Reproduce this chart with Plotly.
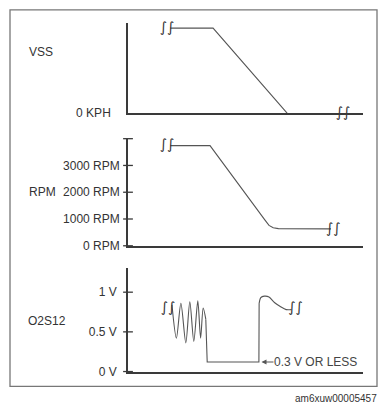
import plotly.graph_objects as go

PAGE_W, PAGE_H = 387, 417
OFF = 8  # default page margin around the plot div
W, H = PAGE_W - 2 * OFF, PAGE_H - 2 * OFF

# ---------------- data ----------------
# common time axis (arbitrary units 0..100)
vss_t = [18.0, 36.2, 67.7]
vss_v = [94, 94, 0]
vss_breaks_t = [16.6, 91.5]
vss_breaks_v = [94, 0]
vss_ticks = [0]
vss_ticktext = ["0 KPH"]

rpm_t = [18.0, 34.9, 58.3, 60.0, 61.8, 64.0, 86.4]
rpm_v = [3740, 3740, 960, 760, 670, 640, 630]
rpm_breaks_t = [16.6, 87.4]
rpm_breaks_v = [3740, 620]
rpm_ticks = [0, 1000, 2000, 3000]
rpm_ticktext = ["0 RPM", "1000 RPM", "2000 RPM", "3000 RPM"]
rpm_marks = [0, 1000, 2000, 3000, 4000]

o2_osc_t = [18.7, 20.6, 22.5, 24.6, 26.3, 28.0, 29.7, 30.9, 32.0, 33.1]
o2_osc_v = [0.84, 0.42, 0.86, 0.36, 0.88, 0.38, 0.89, 0.42, 0.80, 0.66]
o2_low_t = [33.1, 33.7, 55.7, 55.8]
o2_low_v = [0.66, 0.12, 0.12, 0.86]
o2_rec_t = [55.8, 56.5, 58.0, 60.0, 62.3, 64.8, 67.3, 69.6]
o2_rec_v = [0.86, 0.93, 0.95, 0.94, 0.87, 0.82, 0.78, 0.78]
o2_breaks_t = [17.0, 71.3]
o2_breaks_v = [0.80, 0.80]
o2_ticks = [0, 0.5, 1]
o2_ticktext = ["0 V", "0.5 V", "1 V"]
o2_arrow_t = 56.8
o2_arrow_v = 0.12
o2_note = "0.3 V OR LESS"

row_labels = ["VSS", "RPM", "O2S12"]
footer = "am6xuw00005457"

# ---------------- layout helpers (page pixel -> paper) ----------------
def px_x(p):
    return (p - OFF) / W

def px_y(p):
    return 1 - (p - OFF) / H

XDOM = [px_x(128), px_x(363)]
LINE = "#555555"
AXC = "#3a3a3a"
TXT = "#333333"
FONT = "Liberation Sans, Arial, sans-serif"

fig = go.Figure()

def add_line(t, v, ax, shape="linear"):
    fig.add_trace(go.Scatter(x=t, y=v, mode="lines", xaxis=ax[0], yaxis=ax[1],
                             line=dict(color=LINE, width=1.1, shape=shape, smoothing=0.8),
                             hoverinfo="skip", showlegend=False, cliponaxis=False))

def add_breaks(t, v, ax):
    fig.add_trace(go.Scatter(x=t, y=v, mode="text", text=["∫∫"] * len(t),
                             xaxis=ax[0], yaxis=ax[1],
                             textfont=dict(family="DejaVu Sans", size=14, color="#333"),
                             textposition="middle center",
                             hoverinfo="skip", showlegend=False, cliponaxis=False))

def add_marks(v, ax):
    fig.add_trace(go.Scatter(x=[0] * len(v), y=v, mode="markers", xaxis=ax[0], yaxis=ax[1],
                             marker=dict(symbol="line-ew", size=7,
                                         line=dict(color=AXC, width=1.3)),
                             hoverinfo="skip", showlegend=False, cliponaxis=False))

# VSS
add_line(vss_t, vss_v, ("x", "y"))
add_breaks(vss_breaks_t, vss_breaks_v, ("x", "y"))
# RPM
add_line(rpm_t, rpm_v, ("x2", "y2"))
add_breaks(rpm_breaks_t, rpm_breaks_v, ("x2", "y2"))
add_marks(rpm_marks, ("x2", "y2"))
# O2S12
add_line(o2_osc_t, o2_osc_v, ("x3", "y3"), shape="spline")
add_line(o2_low_t, o2_low_v, ("x3", "y3"))
add_line(o2_rec_t, o2_rec_v, ("x3", "y3"), shape="spline")
add_breaks(o2_breaks_t, o2_breaks_v, ("x3", "y3"))
add_marks(o2_ticks, ("x3", "y3"))

def xax(anchor):
    return dict(domain=XDOM, range=[0, 100], anchor=anchor, showline=True,
                linecolor=AXC, linewidth=1.6, showgrid=False, zeroline=False,
                showticklabels=False, ticks="", fixedrange=True)

def yax(anchor, dom, rng, tv, tt, tl):
    return dict(domain=dom, range=rng, anchor=anchor, showline=True,
                linecolor=AXC, linewidth=1.6, showgrid=False, zeroline=False,
                tickvals=tv, ticktext=tt, ticks="outside", ticklen=tl,
                tickcolor="rgba(0,0,0,0)",
                tickfont=dict(family=FONT, size=12, color=TXT), fixedrange=True)

annotations = [
    dict(text=row_labels[0], x=px_x(27), y=px_y(53), xref="paper", yref="paper",
         xanchor="left", yanchor="middle", showarrow=False,
         font=dict(family=FONT, size=12, color=TXT)),
    dict(text=row_labels[1], x=px_x(27), y=px_y(195), xref="paper", yref="paper",
         xanchor="left", yanchor="middle", showarrow=False,
         font=dict(family=FONT, size=12, color=TXT)),
    dict(text=row_labels[2], x=px_x(26), y=px_y(327), xref="paper", yref="paper",
         xanchor="left", yanchor="middle", showarrow=False,
         font=dict(family=FONT, size=12, color=TXT)),
    dict(text=footer, x=px_x(379), y=px_y(405), xref="paper", yref="paper",
         xanchor="right", yanchor="middle", showarrow=False,
         font=dict(family=FONT, size=10, color=TXT)),
    dict(text=o2_note, x=o2_arrow_t, y=o2_arrow_v, xref="x3", yref="y3",
         xanchor="left", yanchor="middle", showarrow=True, ax=12, ay=0,
         arrowhead=2, arrowsize=1, arrowwidth=1, arrowcolor=LINE, standoff=0,
         borderpad=0, font=dict(family=FONT, size=12, color="#444")),
]

fig.update_layout(
    width=W, height=H, margin=dict(l=0, r=0, t=0, b=0),
    paper_bgcolor="white", plot_bgcolor="white", showlegend=False,
    xaxis=xax("y"), xaxis2=xax("y2"), xaxis3=xax("y3"),
    yaxis=yax("x", [px_y(115), px_y(23)], [0, 100], vss_ticks, vss_ticktext, 13),
    yaxis2=yax("x2", [px_y(250), px_y(141)], [0, 4000], rpm_ticks, rpm_ticktext, 4),
    yaxis3=yax("x3", [px_y(378), px_y(273)], [0, 1.3], o2_ticks, o2_ticktext, 7),
    annotations=annotations,
    shapes=[dict(type="rect", xref="paper", yref="paper",
                 x0=px_x(10), x1=px_x(377), y0=px_y(393), y1=px_y(10),
                 line=dict(color="#777777", width=1.3), fillcolor="rgba(0,0,0,0)")],
)

fig.write_html("out.html", config={"displayModeBar": False})
